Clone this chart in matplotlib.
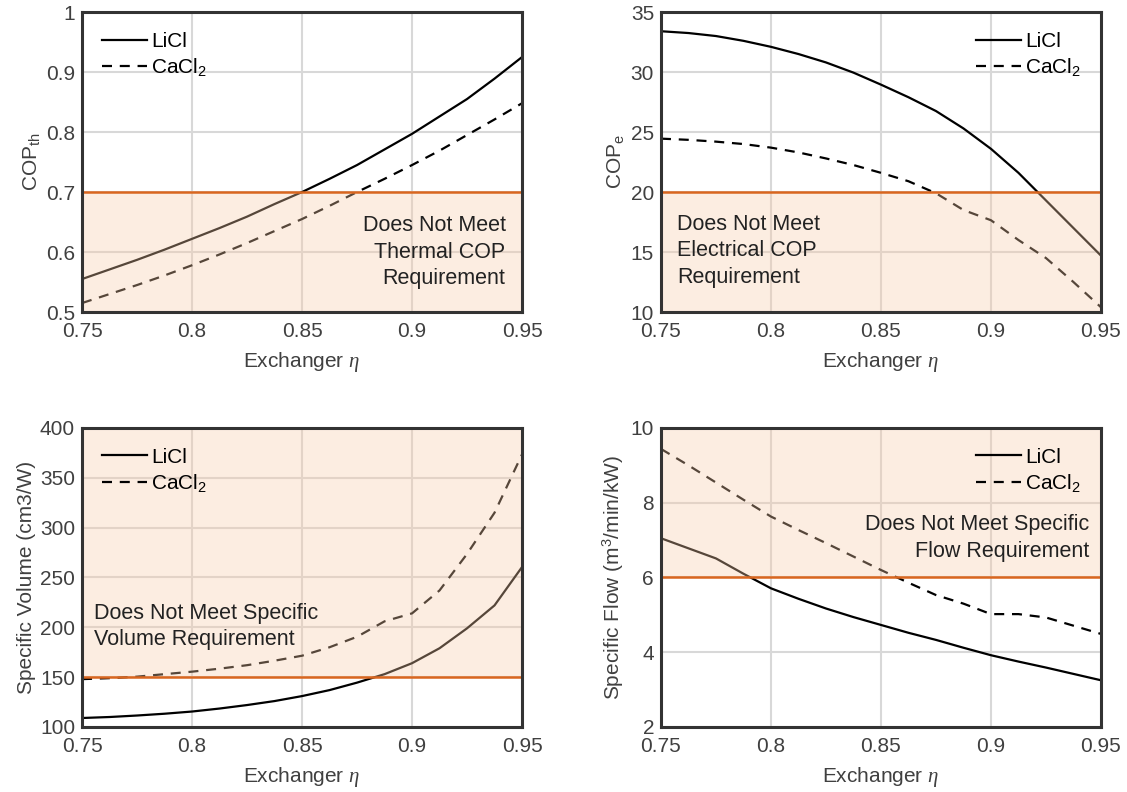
import matplotlib
matplotlib.use('Agg')
import matplotlib.pyplot as plt

plt.rcParams['font.family'] = ['Liberation Sans', 'DejaVu Sans']
plt.rcParams['mathtext.fontset'] = 'custom'
plt.rcParams['mathtext.rm'] = 'Liberation Sans'
plt.rcParams['mathtext.it'] = 'Liberation Serif:italic'

# Exchanger effectiveness values (read every 0.0125)
eta = [0.75, 0.7625, 0.775, 0.7875, 0.8, 0.8125, 0.825, 0.8375, 0.85,
       0.8625, 0.875, 0.8875, 0.9, 0.9125, 0.925, 0.9375, 0.95]

# Thermal COP
copth_licl = [0.555, 0.571, 0.587, 0.604, 0.622, 0.640, 0.659, 0.680, 0.700,
              0.722, 0.745, 0.771, 0.797, 0.826, 0.855, 0.889, 0.925]
copth_cacl = [0.515, 0.530, 0.545, 0.561, 0.578, 0.596, 0.615, 0.635, 0.655,
              0.677, 0.700, 0.722, 0.745, 0.769, 0.795, 0.821, 0.848]

# Electrical COP
cope_licl = [33.4, 33.25, 33.0, 32.6, 32.1, 31.5, 30.8, 29.95, 28.95,
             27.9, 26.75, 25.3, 23.6, 21.6, 19.3, 17.0, 14.7]
cope_cacl = [24.45, 24.35, 24.2, 24.0, 23.7, 23.3, 22.8, 22.25, 21.6,
             20.9, 19.9, 18.5, 17.65, 16.0, 14.5, 12.5, 10.4]

# Specific volume
vol_licl = [109, 110, 111.5, 113.3, 115.5, 118.5, 122, 126, 131,
            137, 144.5, 153, 164, 179, 199, 222, 260.5]
vol_cacl = [148, 149, 150.5, 153, 155.5, 158.5, 162, 166.5, 171.5,
            180, 190.5, 206, 214, 237, 273.6, 315, 373.5]

# Specific flow
flow_licl = [7.05, 6.78, 6.51, 6.1, 5.71, 5.43, 5.17, 4.94, 4.73,
             4.52, 4.33, 4.12, 3.92, 3.75, 3.59, 3.42, 3.25]
flow_cacl = [9.44, 9.0, 8.54, 8.08, 7.63, 7.27, 6.92, 6.56, 6.2,
             5.86, 5.53, 5.3, 5.02, 5.02, 4.93, 4.71, 4.49]

# requirement limits
req_th = 0.7
req_e = 20
req_v = 150
req_f = 6

orange = '#D9661F'
fill = '#F9CCA9'
xticks = [0.75, 0.8, 0.85, 0.9, 0.95]
xlabels = ['0.75', '0.8', '0.85', '0.9', '0.95']

fig = plt.figure(figsize=(11.27, 7.92), dpi=100)
ax1 = fig.add_axes([0.0728, 0.606, 0.3904, 0.3788])
ax2 = fig.add_axes([0.5865, 0.606, 0.3904, 0.3788])
ax3 = fig.add_axes([0.0728, 0.0821, 0.3904, 0.3775])
ax4 = fig.add_axes([0.5865, 0.0821, 0.3904, 0.3775])


def setup(ax, y1, y2, ylim, yticks, ylabels, ylabel, req, below, loc):
    ax.plot(eta, y1, color='black', lw=1.6, label='LiCl', zorder=3)
    ax.plot(eta, y2, color='black', lw=1.6, ls=(0, (4.5, 3.5)), label='CaCl$_2$', zorder=3)
    if below:
        ax.axhspan(ylim[0], req, color=fill, alpha=0.35, lw=0, zorder=4)
    else:
        ax.axhspan(req, ylim[1], color=fill, alpha=0.35, lw=0, zorder=4)
    ax.axhline(req, color=orange, lw=1.8, zorder=5)
    ax.set_xlim(0.75, 0.95)
    ax.set_ylim(ylim)
    ax.set_xticks(xticks)
    ax.set_xticklabels(xlabels)
    ax.set_yticks(yticks)
    ax.set_yticklabels(ylabels)
    ax.grid(True, color='#D8D8D8', lw=1.5, zorder=0)
    ax.set_axisbelow(True)
    ax.tick_params(axis='x', length=0, labelsize=15, colors='#404040', pad=7)
    ax.tick_params(axis='y', length=0, labelsize=15, colors='#404040', pad=5)
    for s in ax.spines.values():
        s.set_color('#333333')
        s.set_linewidth(2.2)
        s.set_zorder(6)
    ax.set_xlabel('Exchanger $\\eta$', fontsize=15, color='#404040', labelpad=7)
    ax.set_ylabel(ylabel, fontsize=15, color='#404040', labelpad=3)
    ax.legend(loc=loc, frameon=False, fontsize=15, handlelength=2.15,
              handletextpad=0.2, borderaxespad=0.55, labelspacing=0.25)


setup(ax1, copth_licl, copth_cacl, (0.5, 1.0),
      [0.5, 0.6, 0.7, 0.8, 0.9, 1.0], ['0.5', '0.6', '0.7', '0.8', '0.9', '1'],
      'COP$_{\\mathrm{th}}$', req_th, True, 'upper left')
ax1.text(0.9425, 0.6, 'Does Not Meet\nThermal COP\nRequirement', ha='right', va='center',
         fontsize=15.5, color='#222222', linespacing=1.35, zorder=7)

setup(ax2, cope_licl, cope_cacl, (10, 35),
      [10, 15, 20, 25, 30, 35], ['10', '15', '20', '25', '30', '35'],
      'COP$_{\\mathrm{e}}$', req_e, True, 'upper right')
ax2.text(0.7575, 15.1, 'Does Not Meet\nElectrical COP\nRequirement', ha='left', va='center',
         fontsize=15.5, color='#222222', linespacing=1.35, zorder=7)

setup(ax3, vol_licl, vol_cacl, (100, 400),
      [100, 150, 200, 250, 300, 350, 400],
      ['100', '150', '200', '250', '300', '350', '400'],
      'Specific Volume (cm3/W)', req_v, False, 'upper left')
ax3.text(0.7555, 201, 'Does Not Meet Specific\nVolume Requirement', ha='left', va='center',
         fontsize=15.5, color='#222222', linespacing=1.35, zorder=7)

setup(ax4, flow_licl, flow_cacl, (2, 10),
      [2, 4, 6, 8, 10], ['2', '4', '6', '8', '10'],
      'Specific Flow (m$^3$/min/kW)', req_f, False, 'upper right')
ax4.text(0.9445, 7.05, 'Does Not Meet Specific\nFlow Requirement', ha='right', va='center',
         fontsize=15.5, color='#222222', linespacing=1.35, zorder=7)

fig.savefig('out.png', dpi=100)
